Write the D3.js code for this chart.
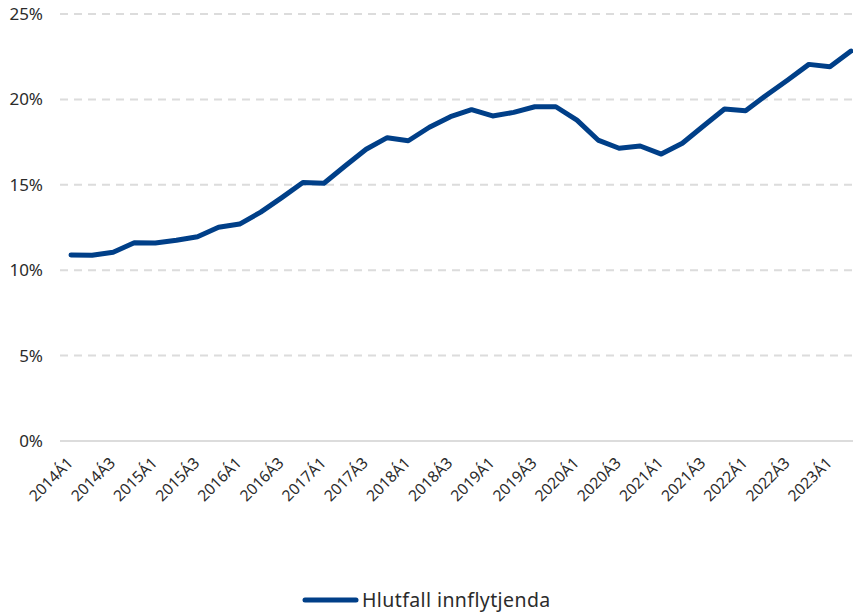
<!DOCTYPE html>
<html><head><meta charset="utf-8">
<script src="https://cdn.jsdelivr.net/npm/d3@7"></script>
<style>
html,body{margin:0;padding:0;background:#fff;}
svg{display:block;font-family:"Noto Sans","Open Sans",sans-serif;}
</style></head>
<body><svg id="c" width="853" height="614"></svg>
<script>
const years = [2014,2015,2016,2017,2018,2019,2020,2021,2022,2023];
const quarters = [];
years.forEach(y => [1,2,3,4].forEach(q => quarters.push(y + "Á" + q)));
const categories = quarters.slice(0, 38); // 2014Á1 .. 2023Á2
const values = [10.89,10.87,11.05,11.61,11.59,11.75,11.96,12.51,12.70,13.40,
  14.25,15.13,15.09,16.10,17.08,17.76,17.58,18.37,18.99,19.40,
  19.03,19.24,19.57,19.57,18.79,17.62,17.14,17.27,16.80,17.43,
  18.44,19.44,19.34,20.26,21.14,22.05,21.91,22.83];
const yTicks = [0,5,10,15,20,25];
const seriesName = "Hlutfall innflytjenda";

const svg = d3.select("#c");
const x = d3.scalePoint().domain(categories).range([71, 851]);
const y = d3.scaleLinear().domain([0, 25]).range([441, 14]);

// gridlines
svg.append("g").selectAll("line").data(yTicks).join("line")
  .attr("x1", 60).attr("x2", 853)
  .attr("y1", d => y(d)).attr("y2", d => y(d))
  .attr("stroke", "#dcdcdc").attr("stroke-width", 2)
  .attr("stroke-dasharray", d => d === 0 ? null : "8,6");

// y labels
svg.append("g").selectAll("text").data(yTicks).join("text")
  .attr("x", 43).attr("y", d => y(d)).attr("dy", "0.35em")
  .attr("text-anchor", "end").attr("font-size", 17).attr("fill", "#2b2b2b")
  .text(d => d + "%");

// x labels
const xLabels = categories.filter((d, i) => i % 2 === 0);
svg.append("g").selectAll("text").data(xLabels).join("text")
  .attr("transform", d => `translate(${x(d) + 3},${464}) rotate(-45)`)
  .attr("text-anchor", "end").attr("font-size", 15.5).attr("fill", "#2b2b2b")
  .text(d => d);

// line
const line = d3.line().x((d, i) => x(categories[i])).y(d => y(d));
svg.append("path").datum(values)
  .attr("d", line).attr("fill", "none")
  .attr("stroke", "#003f88").attr("stroke-width", 5)
  .attr("stroke-linejoin", "round").attr("stroke-linecap", "round");

// legend
const lg = svg.append("g");
lg.append("line").attr("x1", 305).attr("x2", 356).attr("y1", 600).attr("y2", 600)
  .attr("stroke", "#003f88").attr("stroke-width", 5).attr("stroke-linecap", "round");
lg.append("text").attr("x", 362).attr("y", 600).attr("dy", "0.35em")
  .attr("font-size", 19.5).attr("fill", "#2b2b2b").attr("letter-spacing", 0.4).text(seriesName);
</script></body></html>
